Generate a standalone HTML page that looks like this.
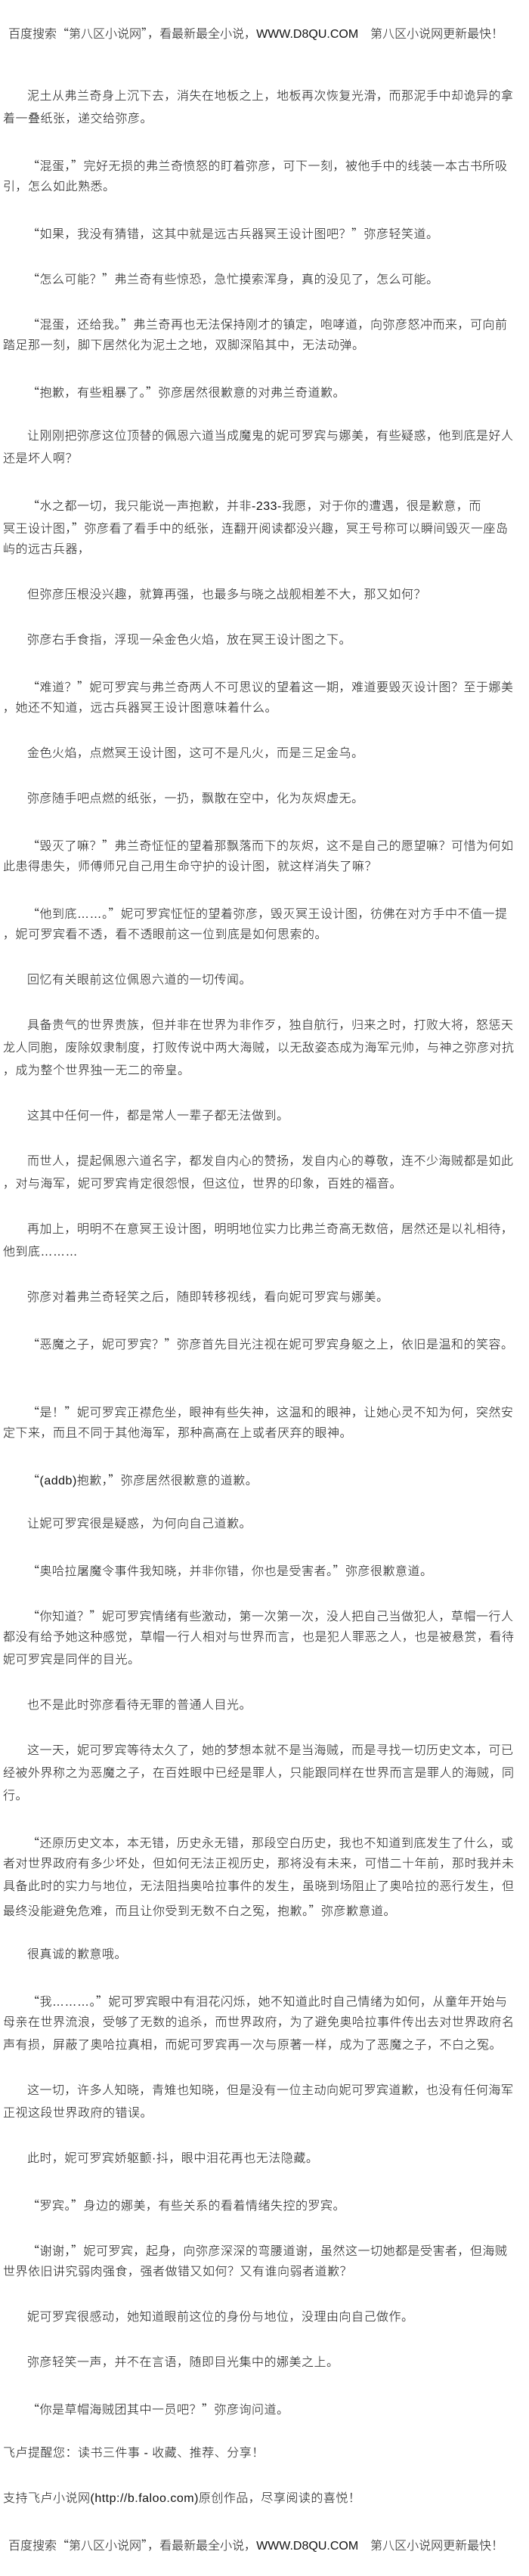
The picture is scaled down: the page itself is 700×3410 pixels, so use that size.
<!DOCTYPE html>
<html><head><meta charset="utf-8">
<style>
html,body{margin:0;padding:0;background:#fff;}
body{width:700px;height:3410px;overflow:hidden;color:#111;
font-family:"Liberation Sans","Noto Sans CJK SC",sans-serif;font-size:16px;letter-spacing:0.5px;font-weight:300;}
#c{padding-top:28px;padding-left:4px;}
#c div{height:30px;line-height:30px;white-space:nowrap;}
#c div.i{padding-left:32px;}
#c div.h{padding-left:7px;letter-spacing:0;}
#c div.sp{height:55px;}
.q{font-family:"Noto Sans CJK SC",sans-serif;}
</style></head><body><div id="c">
<div class="h">百度搜索<span class="q">“</span>第八区小说网<span class="q">”</span>，看最新最全小说，WWW.D8QU.COM　第八区小说网更新最快！</div>
<div class="sp"></div>
<div class="i">泥土从弗兰奇身上沉下去，消失在地板之上，地板再次恢复光滑，而那泥手中却诡异的拿</div>
<div>着一叠纸张，递交给弥彦。</div>
<div></div>
<div class="i"><span class="q">“</span>混蛋，<span class="q">”</span>完好无损的弗兰奇愤怒的盯着弥彦，可下一刻，被他手中的线装一本古书所吸</div>
<div>引，怎么如此熟悉。</div>
<div></div>
<div class="i"><span class="q">“</span>如果，我没有猜错，这其中就是远古兵器冥王设计图吧？<span class="q">”</span>弥彦轻笑道。</div>
<div></div>
<div class="i"><span class="q">“</span>怎么可能？<span class="q">”</span>弗兰奇有些惊恐，急忙摸索浑身，真的没见了，怎么可能。</div>
<div></div>
<div class="i"><span class="q">“</span>混蛋，还给我。<span class="q">”</span>弗兰奇再也无法保持刚才的镇定，咆哮道，向弥彦怒冲而来，可向前</div>
<div>踏足那一刻，脚下居然化为泥土之地，双脚深陷其中，无法动弹。</div>
<div></div>
<div class="i"><span class="q">“</span>抱歉，有些粗暴了。<span class="q">”</span>弥彦居然很歉意的对弗兰奇道歉。</div>
<div></div>
<div class="i">让刚刚把弥彦这位顶替的佩恩六道当成魔鬼的妮可罗宾与娜美，有些疑惑，他到底是好人</div>
<div>还是坏人啊？</div>
<div></div>
<div class="i"><span class="q">“</span>水之都一切，我只能说一声抱歉，并非-233-我愿，对于你的遭遇，很是歉意，而</div>
<div>冥王设计图，<span class="q">”</span>弥彦看了看手中的纸张，连翻开阅读都没兴趣，冥王号称可以瞬间毁灭一座岛</div>
<div>屿的远古兵器，</div>
<div></div>
<div class="i">但弥彦压根没兴趣，就算再强，也最多与晓之战舰相差不大，那又如何？</div>
<div></div>
<div class="i">弥彦右手食指，浮现一朵金色火焰，放在冥王设计图之下。</div>
<div></div>
<div class="i"><span class="q">“</span>难道？<span class="q">”</span>妮可罗宾与弗兰奇两人不可思议的望着这一期，难道要毁灭设计图？至于娜美</div>
<div>，她还不知道，远古兵器冥王设计图意味着什么。</div>
<div></div>
<div class="i">金色火焰，点燃冥王设计图，这可不是凡火，而是三足金乌。</div>
<div></div>
<div class="i">弥彦随手吧点燃的纸张，一扔，飘散在空中，化为灰烬虚无。</div>
<div></div>
<div class="i"><span class="q">“</span>毁灭了嘛？<span class="q">”</span>弗兰奇怔怔的望着那飘落而下的灰烬，这不是自己的愿望嘛？可惜为何如</div>
<div>此患得患失，师傅师兄自己用生命守护的设计图，就这样消失了嘛？</div>
<div></div>
<div class="i"><span class="q">“</span>他到底……。<span class="q">”</span>妮可罗宾怔怔的望着弥彦，毁灭冥王设计图，彷佛在对方手中不值一提</div>
<div>，妮可罗宾看不透，看不透眼前这一位到底是如何思索的。</div>
<div></div>
<div class="i">回忆有关眼前这位佩恩六道的一切传闻。</div>
<div></div>
<div class="i">具备贵气的世界贵族，但并非在世界为非作歹，独自航行，归来之时，打败大将，怒惩天</div>
<div>龙人同胞，废除奴隶制度，打败传说中两大海贼，以无敌姿态成为海军元帅，与神之弥彦对抗</div>
<div>，成为整个世界独一无二的帝皇。</div>
<div></div>
<div class="i">这其中任何一件，都是常人一辈子都无法做到。</div>
<div></div>
<div class="i">而世人，提起佩恩六道名字，都发自内心的赞扬，发自内心的尊敬，连不少海贼都是如此</div>
<div>，对与海军，妮可罗宾肯定很怨恨，但这位，世界的印象，百姓的福音。</div>
<div></div>
<div class="i">再加上，明明不在意冥王设计图，明明地位实力比弗兰奇高无数倍，居然还是以礼相待，</div>
<div>他到底………</div>
<div></div>
<div class="i">弥彦对着弗兰奇轻笑之后，随即转移视线，看向妮可罗宾与娜美。</div>
<div></div>
<div class="i"><span class="q">“</span>恶魔之子，妮可罗宾？<span class="q">”</span>弥彦首先目光注视在妮可罗宾身躯之上，依旧是温和的笑容。</div>
<div></div>
<div></div>
<div class="i"><span class="q">“</span>是！<span class="q">”</span>妮可罗宾正襟危坐，眼神有些失神，这温和的眼神，让她心灵不知为何，突然安</div>
<div>定下来，而且不同于其他海军，那种高高在上或者厌弃的眼神。</div>
<div></div>
<div class="i"><span class="q">“</span>(addb)抱歉，<span class="q">”</span>弥彦居然很歉意的道歉。</div>
<div></div>
<div class="i">让妮可罗宾很是疑惑，为何向自己道歉。</div>
<div></div>
<div class="i"><span class="q">“</span>奥哈拉屠魔令事件我知晓，并非你错，你也是受害者。<span class="q">”</span>弥彦很歉意道。</div>
<div></div>
<div class="i"><span class="q">“</span>你知道？<span class="q">”</span>妮可罗宾情绪有些激动，第一次第一次，没人把自己当做犯人，草帽一行人</div>
<div>都没有给予她这种感觉，草帽一行人相对与世界而言，也是犯人罪恶之人，也是被悬赏，看待</div>
<div>妮可罗宾是同伴的目光。</div>
<div></div>
<div class="i">也不是此时弥彦看待无罪的普通人目光。</div>
<div></div>
<div class="i">这一天，妮可罗宾等待太久了，她的梦想本就不是当海贼，而是寻找一切历史文本，可已</div>
<div>经被外界称之为恶魔之子，在百姓眼中已经是罪人，只能跟同样在世界而言是罪人的海贼，同</div>
<div>行。</div>
<div></div>
<div class="i"><span class="q">“</span>还原历史文本，本无错，历史永无错，那段空白历史，我也不知道到底发生了什么，或</div>
<div>者对世界政府有多少坏处，但如何无法正视历史，那将没有未来，可惜二十年前，那时我并未</div>
<div>具备此时的实力与地位，无法阻挡奥哈拉事件的发生，虽晓到场阻止了奥哈拉的恶行发生，但</div>
<div>最终没能避免危难，而且让你受到无数不白之冤，抱歉。<span class="q">”</span>弥彦歉意道。</div>
<div></div>
<div class="i">很真诚的歉意哦。</div>
<div></div>
<div class="i"><span class="q">“</span>我………。<span class="q">”</span>妮可罗宾眼中有泪花闪烁，她不知道此时自己情绪为如何，从童年开始与</div>
<div>母亲在世界流浪，受够了无数的追杀，而世界政府，为了避免奥哈拉事件传出去对世界政府名</div>
<div>声有损，屏蔽了奥哈拉真相，而妮可罗宾再一次与原著一样，成为了恶魔之子，不白之冤。</div>
<div></div>
<div class="i">这一切，许多人知晓，青雉也知晓，但是没有一位主动向妮可罗宾道歉，也没有任何海军</div>
<div>正视这段世界政府的错误。</div>
<div></div>
<div class="i">此时，妮可罗宾娇躯颤·抖，眼中泪花再也无法隐藏。</div>
<div></div>
<div class="i"><span class="q">“</span>罗宾。<span class="q">”</span>身边的娜美，有些关系的看着情绪失控的罗宾。</div>
<div></div>
<div class="i"><span class="q">“</span>谢谢，<span class="q">”</span>妮可罗宾，起身，向弥彦深深的弯腰道谢，虽然这一切她都是受害者，但海贼</div>
<div>世界依旧讲究弱肉强食，强者做错又如何？又有谁向弱者道歉？</div>
<div></div>
<div class="i">妮可罗宾很感动，她知道眼前这位的身份与地位，没理由向自己做作。</div>
<div></div>
<div class="i">弥彦轻笑一声，并不在言语，随即目光集中的娜美之上。</div>
<div></div>
<div class="i"><span class="q">“</span>你是草帽海贼团其中一员吧？<span class="q">”</span>弥彦询问道。</div>
<div></div>
<div>飞卢提醒您：读书三件事 - 收藏、推荐、分享！</div>
<div></div>
<div>支持飞卢小说网(http://b.faloo.com)原创作品，尽享阅读的喜悦！</div>
<div></div>
<div class="h">百度搜索<span class="q">“</span>第八区小说网<span class="q">”</span>，看最新最全小说，WWW.D8QU.COM　第八区小说网更新最快！</div>
</div></body></html>
